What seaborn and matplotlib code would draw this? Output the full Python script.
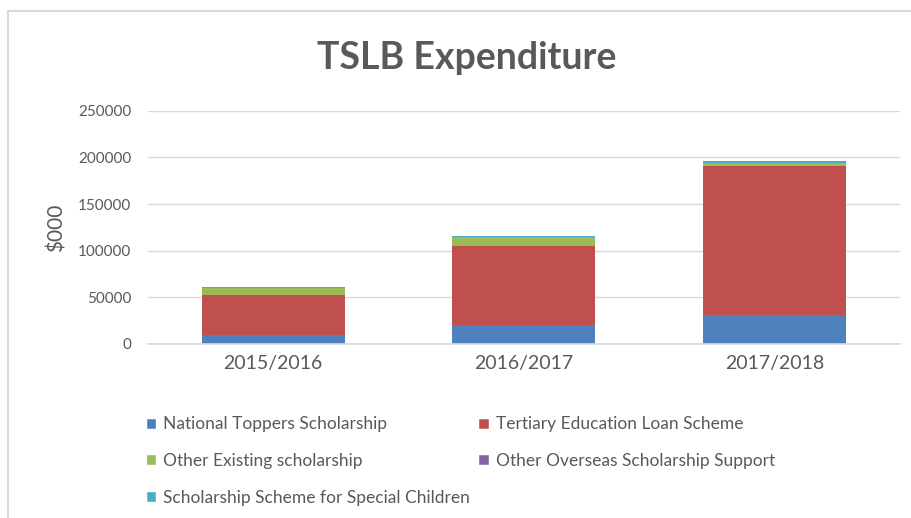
import numpy as np
import pandas as pd
import matplotlib
matplotlib.use("Agg")
import matplotlib.pyplot as plt
from matplotlib.patches import Patch, Rectangle
import seaborn as sns

# data ($000)
years = ["2015/2016", "2016/2017", "2017/2018"]
national_toppers = [9300, 20400, 31100]
tertiary_loan = [43300, 84800, 160200]
other_existing = [7200, 9000, 3300]
other_overseas = [0, 800, 0]
special_children = [1200, 1200, 1800]

series = [
    ("National Toppers Scholarship", national_toppers, "#4F81BD"),
    ("Tertiary Education Loan Scheme", tertiary_loan, "#C0504D"),
    ("Other Existing scholarship", other_existing, "#9BBB59"),
    ("Other Overseas Scholarship Support", other_overseas, "#8064A2"),
    ("Scholarship Scheme for Special Children", special_children, "#4BACC6"),
]

sns.set_theme(style="white")
plt.rcParams["font.family"] = ["Lato", "DejaVu Sans"]

fig = plt.figure(figsize=(9.12, 5.18), dpi=100)
ax = fig.add_axes([0.162, 0.336, 0.825, 0.45])

# stacked bars: draw cumulative totals from the top layer down
cum = np.cumsum([s[1] for s in series], axis=0)
for i in range(len(series) - 1, -1, -1):
    df = pd.DataFrame({"year": years, "value": cum[i]})
    sns.barplot(data=df, x="year", y="value", color=series[i][2],
                width=0.57, saturation=1, linewidth=0, ax=ax, zorder=2)

ax.set_ylim(0, 250000)
ax.set_xlim(-0.5, 2.5)
ax.set_yticks(range(0, 250001, 50000))
ax.yaxis.grid(True, color="#D9D9D9", linewidth=1)
ax.set_axisbelow(True)
for side in ["top", "right", "left"]:
    ax.spines[side].set_visible(False)
ax.spines["bottom"].set_color("#D9D9D9")
ax.tick_params(axis="y", labelsize=11, labelcolor="#595959", length=0, pad=12)
ax.tick_params(axis="x", labelsize=14, labelcolor="#595959", length=0, pad=8)
ax.set_xlabel("")
ax.set_ylabel("$000", fontsize=15, color="#595959", labelpad=8)

fig.text(0.512, 0.888, "TSLB Expenditure", ha="center", va="center",
         fontsize=27, fontweight="bold", color="#595959")

# legend, column-major order
order = [0, 2, 4, 1, 3]
handles = [Patch(facecolor=series[k][2], label=series[k][0]) for k in order]
fig.legend(handles=handles, ncol=2, loc="upper left",
           bbox_to_anchor=(0.152, 0.21), frameon=False,
           fontsize=12.5, labelcolor="#595959", handlelength=0.6,
           handleheight=0.6, handletextpad=0.4, labelspacing=1.2,
           columnspacing=0.5, borderaxespad=0)

# chart frame
fig.patches.append(Rectangle((8 / 912, -0.1), 1.2, 1.1 - 11 / 518,
                             transform=fig.transFigure, fill=False,
                             edgecolor="#D9D9D9", linewidth=1.5))

fig.savefig("out.png", dpi=100)
